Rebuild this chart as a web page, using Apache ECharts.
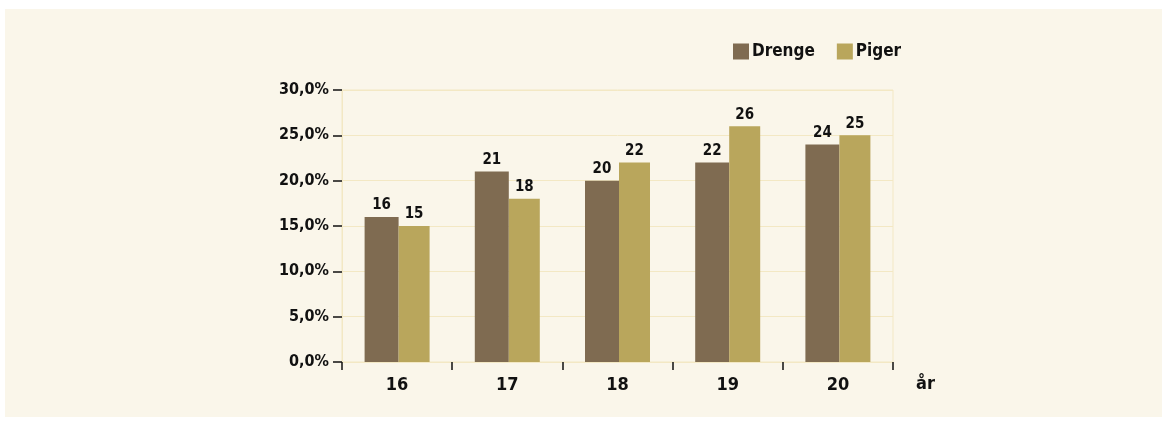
<!DOCTYPE html>
<html>
<head>
<meta charset="utf-8">
<script src="https://cdn.jsdelivr.net/npm/echarts@6/dist/echarts.min.js"></script>
<style>
  html, body { margin: 0; padding: 0; background: #ffffff; }
  #chart { position: absolute; left: 5px; top: 9px; width: 1157px; height: 408px; background: #faf6ea; }
</style>
</head>
<body>
<div id="chart"></div>
<script>
// Ages on the x axis
const ages = ['16', '17', '18', '19', '20'];

// Share in percent
const drenge = [16, 21, 20, 22, 24];
const piger = [15, 18, 22, 26, 25];

// narrow bold look; the condensed DejaVu is the closest one installed
const fontName = '"Liberation Sans Narrow", "DejaVu Sans Condensed", sans-serif';
const lightLine = '#f3e8c4';
const dark = '#111111';

const chart = echarts.init(document.getElementById('chart'));

chart.setOption({
  backgroundColor: 'transparent',
  textStyle: { fontFamily: fontName, fontWeight: 'bold' },
  animation: false,
  legend: {
    left: 728,
    top: 34,
    padding: 0,
    itemWidth: 16,
    itemHeight: 16,
    itemGap: 22,
    icon: 'rect',
    textStyle: { fontFamily: fontName, fontWeight: 'bold', fontSize: 17, color: dark, padding: [0, 0, 0, -2] },
    data: ['Drenge', 'Piger']
  },
  grid: {
    left: 337,
    right: 269,
    top: 81,
    bottom: 55,
    show: true,
    borderColor: lightLine,
    borderWidth: 1,
    containLabel: false
  },
  xAxis: {
    type: 'category',
    data: ages,
    name: 'år',
    nameLocation: 'end',
    nameGap: 23,
    nameTextStyle: { fontFamily: fontName, fontWeight: 'bold', fontSize: 18, color: dark, verticalAlign: 'top', padding: [13, 0, 0, 0] },
    axisLine: { show: true, lineStyle: { color: lightLine } },
    axisTick: { show: true, length: 8, lineStyle: { color: dark, width: 1.5 } },
    axisLabel: { fontFamily: fontName, fontWeight: 'bold', fontSize: 18, color: dark, margin: 14 },
    splitLine: { show: false }
  },
  yAxis: {
    type: 'value',
    min: 0,
    max: 30,
    interval: 5,
    axisLine: { show: true, lineStyle: { color: lightLine } },
    axisTick: { show: true, length: 9, lineStyle: { color: dark, width: 1.5 } },
    axisLabel: {
      fontFamily: fontName, fontWeight: 'bold', fontSize: 16, color: dark, margin: 13,
      formatter: function (v) { return v.toFixed(1).replace('.', ',') + '%'; }
    },
    splitLine: { show: true, lineStyle: { color: lightLine, width: 1 } }
  },
  series: [
    {
      name: 'Drenge',
      type: 'bar',
      data: drenge,
      barWidth: 34,
      barGap: '0%',
      itemStyle: { color: '#7f6b51' },
      label: { show: true, position: 'top', distance: 4, fontFamily: fontName, fontWeight: 'bold', fontSize: 15, color: dark }
    },
    {
      name: 'Piger',
      type: 'bar',
      data: piger,
      barWidth: 31,
      barGap: '0%',
      itemStyle: { color: '#b9a65c' },
      label: { show: true, position: 'top', distance: 4, fontFamily: fontName, fontWeight: 'bold', fontSize: 15, color: dark }
    }
  ]
});
</script>
</body>
</html>
